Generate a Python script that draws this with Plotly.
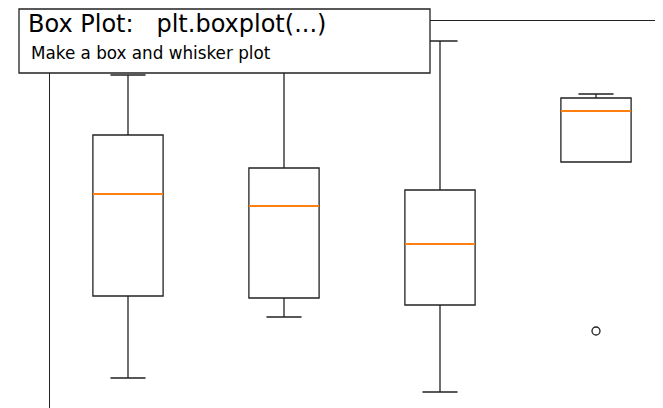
import plotly.graph_objects as go

# box statistics (arbitrary units)
positions = [1, 2, 3, 4]
upper_fence = [8.65, 8.9, 9.5, 8.175]
q3 = [7.15, 6.325, 5.775, 8.075]
medians = [5.675, 5.375, 4.425, 7.75]
q1 = [3.125, 3.075, 2.9, 6.475]
lower_fence = [1.075, 2.6, 0.725, 6.475]
outlier_x = [4]
outlier_y = [2.25]

W, H = 663, 408
OFF = 8  # page body margin
L, T = 50 - OFF, 21 - OFF
plot_w, plot_h = W - L, H - T
px_per_unit = 156  # x spacing between boxes in px


def px(x):
    # page pixel -> paper coordinate
    return (x - OFF - L) / plot_w


def py(y):
    return (H - (y - OFF)) / plot_h


fig = go.Figure()
line_col = '#222222'

for i, pos in enumerate(positions):
    fig.add_trace(go.Box(x=[pos], q1=[q1[i]], median=[medians[i]], q3=[q3[i]],
                         lowerfence=[lower_fence[i]], upperfence=[upper_fence[i]],
                         width=0.45, whiskerwidth=0.5,
                         fillcolor='rgba(0,0,0,0)',
                         line=dict(color=line_col, width=1.3),
                         hoverinfo='skip', showlegend=False))
    # orange median drawn over the black one as a flat box
    fig.add_trace(go.Box(x=[pos], q1=[medians[i]], median=[medians[i]], q3=[medians[i]],
                         lowerfence=[medians[i]], upperfence=[medians[i]],
                         width=0.45, whiskerwidth=0,
                         fillcolor='rgba(0,0,0,0)',
                         line=dict(color='#ff7f0e', width=1.8),
                         hoverinfo='skip', showlegend=False))

fig.add_trace(go.Scatter(x=outlier_x, y=outlier_y, mode='markers',
                         marker=dict(symbol='circle-open', size=8,
                                     color=line_col, line=dict(width=1.3)),
                         hoverinfo='skip', showlegend=False))

# title box overlaid on the axes
fig.add_shape(type='rect', xref='paper', yref='paper',
              x0=px(19), x1=px(430), y0=py(73), y1=py(9),
              fillcolor='white', line=dict(color=line_col, width=1.3),
              layer='above')
fig.add_annotation(text='Box Plot:   plt.boxplot(...)', xref='paper', yref='paper',
                   x=px(26), y=py(24), xanchor='left', yanchor='middle',
                   showarrow=False, font=dict(size=24, color='black', family='DejaVu Sans'))
fig.add_annotation(text='Make a box and whisker plot', xref='paper', yref='paper',
                   x=px(29), y=py(53), xanchor='left', yanchor='middle',
                   showarrow=False, font=dict(size=16.8, color='black', family='DejaVu Sans'))

fig.update_layout(width=W, height=H, margin=dict(l=L, r=0, t=T, b=0),
                  plot_bgcolor='white', paper_bgcolor='white',
                  showlegend=False, boxmode='overlay')
fig.update_xaxes(range=[0.5, 0.5 + plot_w / px_per_unit], side='top',
                 showline=True, linecolor=line_col, linewidth=1.3,
                 showgrid=False, zeroline=False, showticklabels=False, ticks='')
fig.update_yaxes(range=[10 - plot_h / 40, 10],
                 showline=True, linecolor=line_col, linewidth=1.3,
                 showgrid=False, zeroline=False, showticklabels=False, ticks='')

fig.write_html("out.html")
